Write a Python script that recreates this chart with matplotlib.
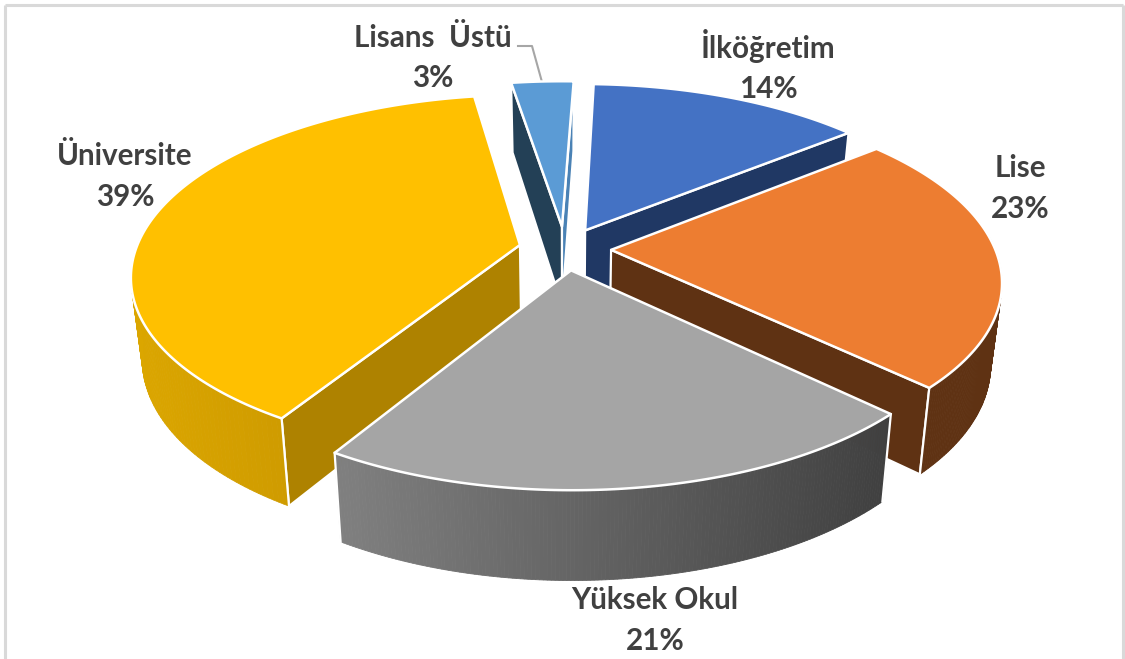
import numpy as np
import matplotlib
matplotlib.use("Agg")
import matplotlib.pyplot as plt
from matplotlib.colors import to_rgb

categories = ["İlköğretim", "Lise", "Yüksek Okul", "Üniversite", "Lisans  Üstü"]
values = [13.55, 23.1, 21.49, 38.78, 3.08]
explode = [0.12, 0.12, 0.12, 0.12, 0.13]
top_colors = ["#4472C4", "#ED7D31", "#A5A5A5", "#FFC000", "#5B9BD5"]
start_wall = ["#203864", "#5F3213", "#525252", "#AE8200", "#234056"]
end_wall = ["#203864", "#5F3213", "#525252", "#AE8200", "#4A82B5"]
outer_left = ["#203864", "#5F3213", "#808080", "#DBA600", "#234056"]
outer_right = ["#203864", "#5F3213", "#404040", "#C08E00", "#234056"]
draw_order = [4, 0, 3, 1, 2]
label_pos = [(768, 66), (1020, 188.5), (655, 620.5), (125, 176.5), (433, 58)]
text_color = "#404040"

# projection of the tilted pie
CX, CY = 565, 249
A, B, K = 384, 176, 0.164
H, Q, M = 80, 0.115, 0.026
START = 2.0


def project(x, yf, h=0.0):
    w = 1 - K * yf
    px = CX + A * x / w * (1 - M * h)
    py = CY + B * yf / w + h * H * (1 + Q * yf)
    return px, py


fig = plt.figure(figsize=(11.25, 6.59), dpi=100)
ax = fig.add_axes([0, 0, 1, 1])
ax.set_xlim(0, 1125)
ax.set_ylim(659, 0)
ax.axis("off")

BC = "#D9D9D9"
ax.plot([5, 5], [659, 5], color=BC, lw=2.2, solid_capstyle="butt")
ax.plot([5, 1122.5], [5, 5], color=BC, lw=2.2, solid_capstyle="butt")
ax.plot([1122.5, 1122.5], [5, 659], color=BC, lw=2.2, solid_capstyle="butt")

fracs = np.array(values) / sum(values) * 360
bounds = START + np.concatenate([[0], np.cumsum(fracs)])

for i in draw_order:
    t0, t1 = np.radians(bounds[i]), np.radians(bounds[i + 1])
    tm = (t0 + t1) / 2
    ox, oy = explode[i] * np.sin(tm), -explode[i] * np.cos(tm)
    th = np.linspace(t0, t1, 160)
    ax_x = ox + np.sin(th)
    ax_y = oy - np.cos(th)
    # radial walls, only when they face the viewer
    cam = np.array([-ox, 1 / K - oy])
    n0 = -np.array([np.cos(t0), np.sin(t0)])
    n1 = np.array([np.cos(t1), np.sin(t1)])
    for th_e, n, col in ((t0, n0, start_wall[i]), (t1, n1, end_wall[i])):
        if n @ cam > 0:
            ex, ey = ox + np.sin(th_e), oy - np.cos(th_e)
            xs = [ox, ex, ex, ox]
            ys = [oy, ey, ey, oy]
            hs = [0, 0, 1, 1]
            p = [project(a, b, c) for a, b, c in zip(xs, ys, hs)]
            ax.fill(*zip(*p), facecolor=col, edgecolor="white", lw=1.6, joinstyle="round", zorder=2)
    # outer wall, shaded along its width, front-facing part only
    tx, ty = project(ax_x, ax_y, 0)
    bx, by = project(ax_x, ax_y, 1)
    lo, hi = min(tx.min(), bx.min()), max(tx.max(), bx.max())
    cl, cr = np.array(to_rgb(outer_left[i])), np.array(to_rgb(outer_right[i]))
    for j in range(len(th) - 1):
        if -np.cos(th[j]) < -0.1 and -np.cos(th[j + 1]) < -0.1:
            continue
        f = ((tx[j] + tx[j + 1]) / 2 - lo) / max(hi - lo, 1)
        c = cl + (cr - cl) * f
        ax.fill([tx[j], tx[j + 1], bx[j + 1], bx[j]], [ty[j], ty[j + 1], by[j + 1], by[j]],
                facecolor=c, edgecolor=c, lw=0.6, zorder=2)
    for k_end in (0, -1):
        if -np.cos(th[k_end]) > 0:
            ax.plot([tx[k_end], bx[k_end]], [ty[k_end], by[k_end]], color="white", lw=1.6, zorder=2)
    # top face
    px, py = project(np.r_[ox, ax_x], np.r_[oy, ax_y], 0)
    ax.fill(px, py, facecolor=top_colors[i], edgecolor="white", lw=1.8, joinstyle="round", zorder=2)

ax.plot([518, 532, 542], [46, 46, 82], color="#A6A6A6", lw=1.5, zorder=1)

for i, (lx, ly) in enumerate(label_pos):
    ax.text(lx, ly, f"{categories[i]}\n{values[i]:.0f}%", ha="center", va="center", family="Lato",
            weight="bold", fontsize=21.3, color=text_color, linespacing=1.56, zorder=3)

fig.savefig("out.png", dpi=100)
